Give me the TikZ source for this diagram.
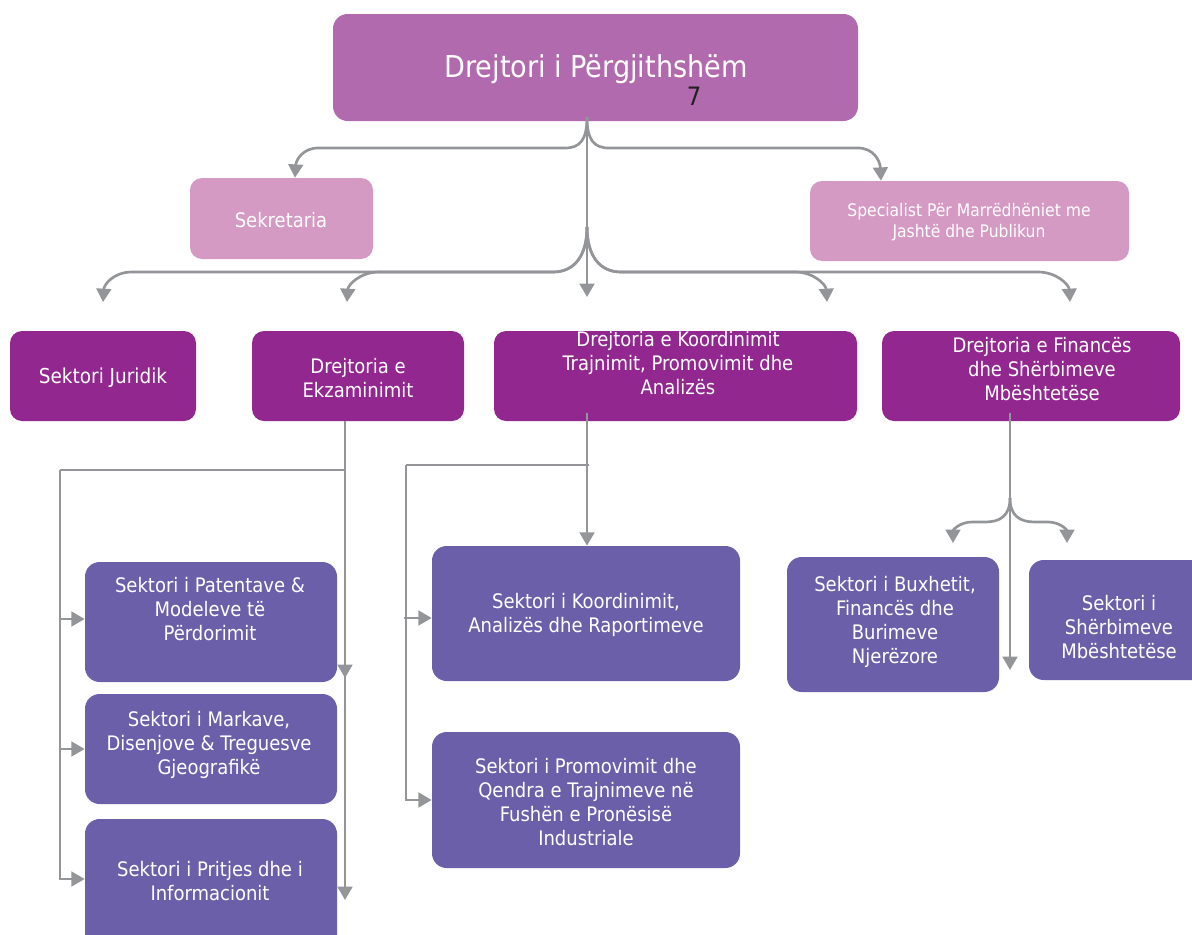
\documentclass[tikz,border=0pt]{standalone}
\usepackage{fontspec}
\setmainfont{DejaVu Sans Condensed}
\usetikzlibrary{arrows.meta,fit,calc}
\definecolor{topc}{HTML}{B06AAD}
\definecolor{lightc}{HTML}{D59AC3}
\definecolor{darkc}{HTML}{92278F}
\definecolor{secc}{HTML}{6C5FAA}
\definecolor{linegray}{HTML}{939598}
\definecolor{numc}{HTML}{231F20}
\begin{document}
\begin{tikzpicture}[x=0.75pt,y=-0.75pt,
  box/.style={inner sep=0pt, rounded corners=11pt, draw=none},
  txt/.style={text=white, align=center, font=\fontsize{15}{18}\selectfont, inner sep=0pt},
  con/.style={draw=linegray, line width=2pt},
  arr/.style={con, -{Triangle[width=11pt,length=10pt]}}]
\useasboundingbox (0,0) rectangle (1192,935);

% ---- boxes
\node[box, fill=topc, fit={(333,14) (858,121)}] (top) {};
\node[box, fill=lightc, rounded corners=9pt, fit={(190,178) (373,259)}] (sek) {};
\node[box, fill=lightc, rounded corners=9pt, fit={(810,181) (1129,261)}] (spec) {};
\node[box, fill=darkc, rounded corners=9pt, fit={(10,331) (196,421)}] (jur) {};
\node[box, fill=darkc, rounded corners=9pt, fit={(252,331) (464,421)}] (ekz) {};
\node[box, fill=darkc, rounded corners=9pt, fit={(494,331) (857,421)}] (koo) {};
\node[box, fill=darkc, rounded corners=9pt, fit={(882,331) (1180,421)}] (fin) {};
\node[box, fill=secc, fit={(85,562) (337,682)}] (pat) {};
\node[box, fill=secc, fit={(85,694) (337,804)}] (mar) {};
\node[box, fill=secc, fit={(85,819) (337,950)}] (pri) {};
\node[box, fill=secc, fit={(432,546) (740,681)}] (ska) {};
\node[box, fill=secc, fit={(432,732) (740,868)}] (pro) {};
\node[box, fill=secc, fit={(787,557) (999,692)}] (bux) {};
\node[box, fill=secc, fit={(1029,560) (1210,680)}] (shm) {};

% ---- texts
\node[txt, font=\fontsize{22.6}{26}\selectfont] (topt) at (596,69) {Drejtori i Përgjithshëm};
\node[inner sep=0pt, text=numc, font=\fontsize{19}{22}\selectfont] (seven) at (694,96) {7};
\node[txt] (sekt) at (281,220) {Sekretaria};
\node[txt, font=\fontsize{13}{16}\selectfont] (spect) at (969,222) {Specialist Për Marrëdhëniet me\\Jashtë dhe Publikun};
\node[txt, font=\fontsize{15.4}{18}\selectfont] (jurt) at (103,378) {Sektori Juridik};
\node[txt] (ekzt) at (358,378) {Drejtoria e\\Ekzaminimit};
\node[txt] (koot) at (678,363) {Drejtoria e Koordinimit\\Trajnimit, Promovimit dhe\\Analizës};
\node[txt] (fint) at (1042,369) {Drejtoria e Financës\\dhe Shërbimeve\\Mbështetëse};
\node[txt] (patt) at (210,609) {Sektori i Patentave \&\\Modeleve të\\Përdorimit};
\node[txt] (mart) at (209,745) {Sektori i Markave,\\Disenjove \& Treguesve\\Gjeografikë};
\node[txt] (prit) at (210,881) {Sektori i Pritjes dhe i\\Informacionit};
\node[txt] (skat) at (586,615) {Sektori i Koordinimit,\\Analizës dhe Raportimeve};
\node[txt] (prot) at (586,802) {Sektori i Promovimit dhe\\Qendra e Trajnimeve në\\Fushën e Pronësisë\\Industriale};
\node[txt] (buxt) at (895,622) {Sektori i Buxhetit,\\Financës dhe\\Burimeve\\Njerëzore};
\node[txt] (shmt) at (1119,627) {Sektori i\\Shërbimeve\\Mbështetëse};

% ---- coordinates
\coordinate (s0) at (587,117);
\coordinate (s1) at (587,227);
\coordinate (k0) at (587,297);
\coordinate (e0) at (345,421);
\coordinate (e1) at (345,470);
\coordinate (e2) at (60,470);
\coordinate (e3) at (345,655);
\coordinate (c0) at (587,413);
\coordinate (c1) at (589,465);
\coordinate (c2) at (406,465);
\coordinate (f0) at (1010,413);
\coordinate (f1) at (1010,498);

% ---- top fork
\draw[arr] (s0) .. controls (587,140) and (580,148) .. (565,148) -- (318,148)
  .. controls (303,148) and (296,160) .. (sek.north -| 295,0);
\draw[arr] (s0) .. controls (587,140) and (594,148) .. (609,148) -- (858,148)
  .. controls (873,148) and (880,160) .. (spec.north -| 881,0);
\draw[arr] (s0) -- (k0);
% second fork
\draw[arr] (s1) .. controls (587,255) and (575,272) .. (553,272) -- (379,272)
  .. controls (360,272) and (348,285) .. (347,302);
\draw[arr] (s1) .. controls (587,255) and (575,272) .. (553,272) -- (132,272)
  .. controls (113,272) and (104,285) .. (103,302);
\draw[arr] (s1) .. controls (587,255) and (599,272) .. (621,272) -- (795,272)
  .. controls (814,272) and (826,285) .. (827,302);
\draw[arr] (s1) .. controls (587,255) and (599,272) .. (621,272) -- (1038,272)
  .. controls (1057,272) and (1069,285) .. (1070,302);

% ---- Ekzaminimit tree
\draw[arr] (e0) -- (345,678);
\draw[arr] (e3) -- (345,900);
\draw[con] (e1) -- (e2);
\draw[arr] (e2) |- (pri.west |- 0,879);
\draw[arr] (60,619) -- (pat.west |- 0,619);
\draw[arr] (60,749) -- (mar.west |- 0,749);

% ---- Koordinimit tree
\draw[arr] (c0) -- (ska.north -| c0);
\draw[con] (c1) -- (c2);
\draw[arr] (c2) |- (pro.west |- 0,800);
\draw[arr] (404,618) -- (ska.west |- 0,618);

% ---- Finance tree
\draw[arr] (f0) -- (1010,670);
\draw[arr] (f1) .. controls (1010,516) and (1000,522) .. (985,522) -- (972,522)
  .. controls (960,522) and (953,530) .. (953,543);
\draw[arr] (f1) .. controls (1010,516) and (1020,522) .. (1035,522) -- (1048,522)
  .. controls (1060,522) and (1067,530) .. (1067,543);
\end{tikzpicture}
\end{document}
